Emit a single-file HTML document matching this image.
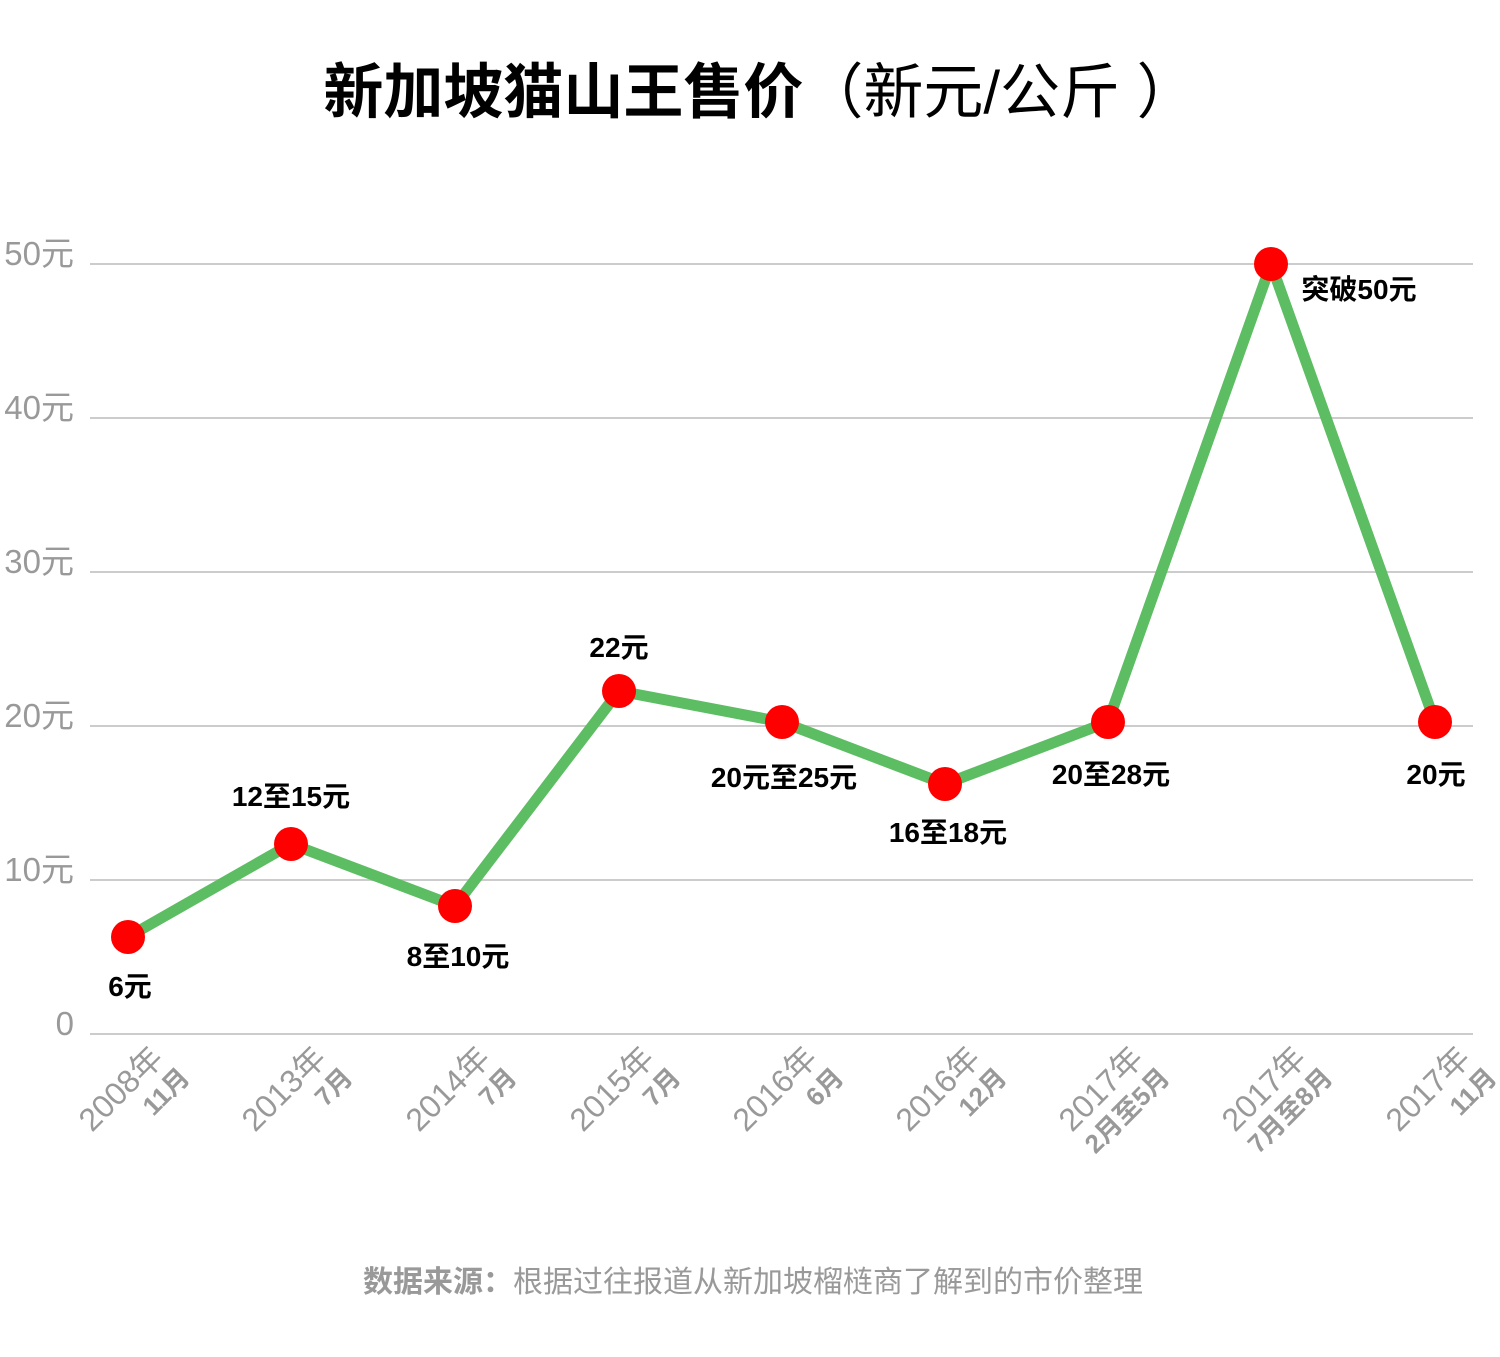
<!DOCTYPE html>
<html><head><meta charset="utf-8"><style>
html,body{margin:0;padding:0;background:#fff;}
svg{display:block;font-family:"Liberation Sans","Noto Sans CJK SC",sans-serif;}
</style></head><body>
<svg width="1500" height="1357" viewBox="0 0 1500 1357">
<text x="760" y="113" text-anchor="middle" font-size="60"><tspan font-weight="bold">新加坡猫山王售价</tspan><tspan>（新元/公斤 ）</tspan></text>
<g stroke="#cccccc" stroke-width="2">
<line x1="90" y1="264" x2="1473" y2="264"/><line x1="90" y1="418" x2="1473" y2="418"/>
<line x1="90" y1="572" x2="1473" y2="572"/><line x1="90" y1="726" x2="1473" y2="726"/>
<line x1="90" y1="880" x2="1473" y2="880"/><line x1="90" y1="1034" x2="1473" y2="1034"/>
</g>
<g fill="#999" font-size="33" text-anchor="end">
<text x="74" y="265">50元</text><text x="74" y="419">40元</text><text x="74" y="573">30元</text>
<text x="74" y="727">20元</text><text x="74" y="881">10元</text><text x="74" y="1035">0</text>
</g>
<polyline fill="none" stroke="#5cbd62" stroke-width="11" stroke-linejoin="round" points="128,937 291,844 455,906 619,691 782,722 945,784 1108,722 1271,264 1435,722"/>
<g fill="#ff0000">
<circle cx="128" cy="937" r="17"/><circle cx="291" cy="844" r="17"/><circle cx="455" cy="906" r="17"/>
<circle cx="619" cy="691" r="17"/><circle cx="782" cy="722" r="17"/><circle cx="945" cy="784" r="17"/>
<circle cx="1108" cy="722" r="17"/><circle cx="1271" cy="264" r="17"/><circle cx="1435" cy="722" r="17"/>
</g>
<g font-size="28" font-weight="bold" text-anchor="middle" fill="#000">
<text x="130" y="996">6元</text><text x="291" y="806">12至15元</text><text x="458" y="966">8至10元</text>
<text x="619" y="657">22元</text><text x="784" y="787">20元至25元</text><text x="948" y="842">16至18元</text>
<text x="1111" y="784">20至28元</text><text x="1359" y="299">突破50元</text><text x="1436" y="784">20元</text>
</g>
<g fill="#999">
<g transform="translate(165,1060) rotate(-45)"><text text-anchor="end" font-size="32">2008年</text><text text-anchor="end" y="32" x="5" font-size="26" font-weight="bold">11月</text></g>
<g transform="translate(328,1060) rotate(-45)"><text text-anchor="end" font-size="32">2013年</text><text text-anchor="end" y="32" x="5" font-size="26" font-weight="bold">7月</text></g>
<g transform="translate(492,1060) rotate(-45)"><text text-anchor="end" font-size="32">2014年</text><text text-anchor="end" y="32" x="5" font-size="26" font-weight="bold">7月</text></g>
<g transform="translate(656,1060) rotate(-45)"><text text-anchor="end" font-size="32">2015年</text><text text-anchor="end" y="32" x="5" font-size="26" font-weight="bold">7月</text></g>
<g transform="translate(819,1060) rotate(-45)"><text text-anchor="end" font-size="32">2016年</text><text text-anchor="end" y="32" x="5" font-size="26" font-weight="bold">6月</text></g>
<g transform="translate(982,1060) rotate(-45)"><text text-anchor="end" font-size="32">2016年</text><text text-anchor="end" y="32" x="5" font-size="26" font-weight="bold">12月</text></g>
<g transform="translate(1145,1060) rotate(-45)"><text text-anchor="end" font-size="32">2017年</text><text text-anchor="end" y="32" x="5" font-size="26" font-weight="bold">2月至5月</text></g>
<g transform="translate(1308,1060) rotate(-45)"><text text-anchor="end" font-size="32">2017年</text><text text-anchor="end" y="32" x="5" font-size="26" font-weight="bold">7月至8月</text></g>
<g transform="translate(1472,1060) rotate(-45)"><text text-anchor="end" font-size="32">2017年</text><text text-anchor="end" y="32" x="5" font-size="26" font-weight="bold">11月</text></g>
</g>
<text x="753" y="1292" text-anchor="middle" font-size="30" fill="#999"><tspan font-weight="bold">数据来源：</tspan>根据过往报道从新加坡榴梿商了解到的市价整理</text>
</svg>
</body></html>
